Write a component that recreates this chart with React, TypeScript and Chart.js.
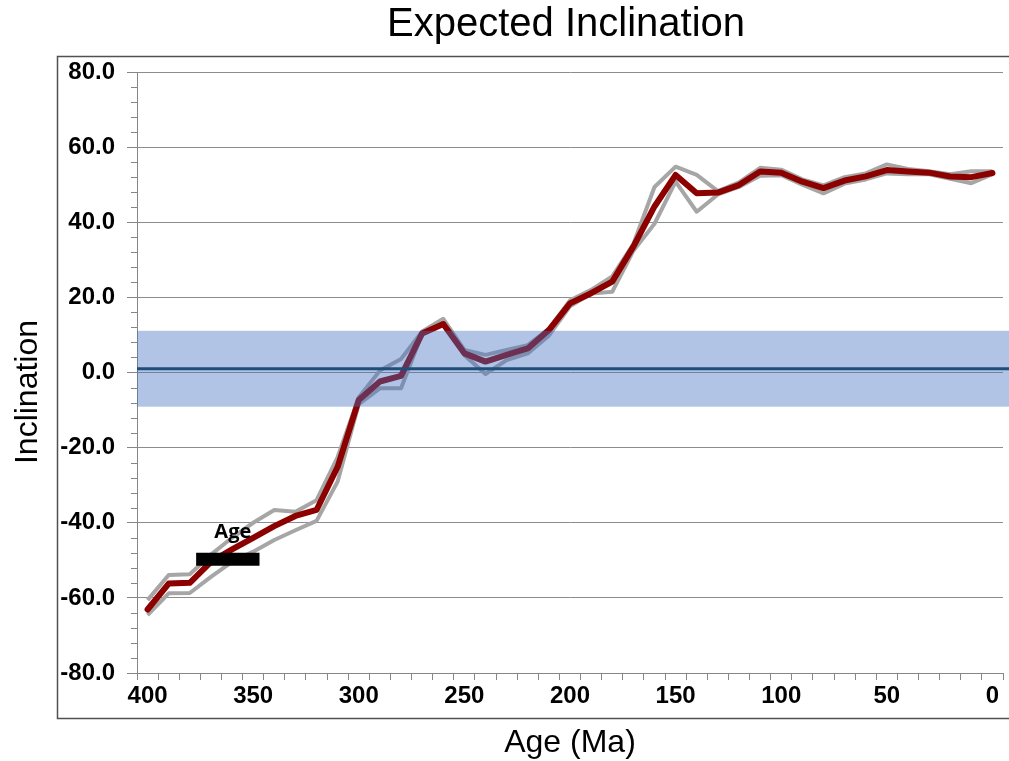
import React, { useEffect, useRef } from 'react';
import { Chart, registerables } from 'chart.js';

Chart.register(...registerables);

// ---- data ----
const ages = [
  400, 390, 380, 370, 360, 350, 340, 330, 320, 310,
  300, 290, 280, 270, 260, 250, 240, 230, 220, 210,
  200, 190, 180, 170, 160, 150, 140, 130, 120, 110,
  100, 90, 80, 70, 60, 50, 40, 30, 20, 10, 0,
];
const expectedInclination = [
  -63.1, -56.2, -56.0, -50.4, -47.1, -44.0, -40.9, -38.2, -36.6, -25.1,
  -7.3, -2.4, -0.9, 10.4, 12.9, 5.1, 2.9, 4.7, 6.4, 11.3,
  18.4, 21.1, 24.2, 33.5, 44.2, 52.6, 47.7, 47.9, 49.9, 53.5,
  53.2, 50.8, 49.1, 51.1, 52.2, 53.9, 53.5, 53.2, 52.2, 52.0, 53.1,
];
const upperInclination = [
  -60.6, -53.9, -53.7, -48.5, -44.0, -40.0, -36.6, -37.1, -34.0, -22.5,
  -6.6, 0.5, 3.6, 10.9, 14.3, 6.0, 4.7, 6.0, 7.3, 11.6,
  19.2, 22.0, 25.6, 34.2, 49.4, 54.8, 52.6, 48.3, 50.6, 54.5,
  54.0, 51.4, 49.8, 52.0, 53.0, 55.4, 54.2, 53.6, 52.8, 53.6, 53.6,
];
const lowerInclination = [
  -64.6, -58.8, -58.7, -54.4, -50.4, -47.7, -44.6, -42.0, -39.5, -29.0,
  -8.4, -4.2, -4.2, 10.3, 12.8, 4.6, -0.4, 3.3, 5.1, 9.8,
  17.6, 21.0, 21.5, 32.4, 39.6, 50.8, 42.8, 47.4, 49.4, 52.4,
  52.5, 50.0, 47.7, 50.3, 51.4, 53.0, 52.8, 52.8, 51.6, 50.4, 52.8,
];
const xLabelStep = 50;
const yMin = -80;
const yMax = 80;
const yMajorStep = 20;
const yMinorStep = 4;
const bandTop = 11.1;
const bandBottom = -9.1;
const bandCenter = 1.0;
const ageBarRange = [377, 347];
const ageBarValue = -49.7;
const ageBarLabel = 'Age';
const chartTitle = 'Expected Inclination';
const xTitle = 'Age (Ma)';
const yTitle = 'Inclination';

const FONT = "'Liberation Sans', Arial, sans-serif";
const AXIS_GREY = '#868686';

const decorPlugin = {
  id: 'decor',
  afterDatasetsDraw(chart: any) {
    const { ctx, chartArea, scales } = chart;
    const y = scales.y;
    ctx.save();
    const yt = y.getPixelForValue(bandTop);
    const yb = y.getPixelForValue(bandBottom);
    ctx.fillStyle = 'rgba(68,114,196,0.42)';
    ctx.fillRect(chartArea.left, yt, chart.width - chartArea.left, yb - yt);
    const yc = y.getPixelForValue(bandCenter);
    ctx.strokeStyle = '#1f4e79';
    ctx.lineWidth = 3;
    ctx.beginPath();
    ctx.moveTo(chartArea.left, yc);
    ctx.lineTo(chart.width, yc);
    ctx.stroke();
    ctx.restore();
  },
  afterDraw(chart: any) {
    const { ctx, chartArea, scales } = chart;
    const x = scales.x;
    const y = scales.y;
    ctx.save();
    // minor ticks on y axis
    ctx.strokeStyle = AXIS_GREY;
    ctx.lineWidth = 1;
    for (let v = yMin; v <= yMax; v += yMinorStep) {
      if (v % yMajorStep === 0) continue;
      const py = Math.round(y.getPixelForValue(v)) + 0.5;
      ctx.beginPath();
      ctx.moveTo(chartArea.left - 6, py);
      ctx.lineTo(chartArea.left, py);
      ctx.stroke();
    }
    // frame
    ctx.strokeStyle = '#505050';
    ctx.lineWidth = 1.5;
    ctx.beginPath();
    ctx.moveTo(chart.width + 2, 56.5);
    ctx.lineTo(57.5, 56.5);
    ctx.lineTo(57.5, 718.5);
    ctx.lineTo(chart.width + 2, 718.5);
    ctx.stroke();
    // titles
    ctx.fillStyle = '#000';
    ctx.textAlign = 'center';
    ctx.textBaseline = 'middle';
    ctx.font = `40px ${FONT}`;
    ctx.fillText(chartTitle, (chartArea.left + chartArea.right) / 2 - 4, 25);
    ctx.font = `32px ${FONT}`;
    ctx.fillText(xTitle, (chartArea.left + chartArea.right) / 2, 743);
    ctx.save();
    ctx.translate(28, 392);
    ctx.rotate(-Math.PI / 2);
    ctx.fillText(yTitle, 0, 0);
    ctx.restore();
    // age bar label
    const mid = (x.getPixelForValue(ageBarRange[0]) + x.getPixelForValue(ageBarRange[1])) / 2;
    ctx.font = `bold 20px 'Open Sans', 'Noto Sans', sans-serif`;
    ctx.fillText(ageBarLabel, mid + 5, y.getPixelForValue(ageBarValue) - 27);
    ctx.restore();
  },
};

export default function App() {
  const canvasRef = useRef<HTMLCanvasElement | null>(null);

  useEffect(() => {
    if (!canvasRef.current) return;
    const toXY = (vals: number[]) => ages.map((a, i) => ({ x: a, y: vals[i] }));
    const chart = new Chart(canvasRef.current, {
      type: 'line',
      data: {
        datasets: [
          {
            label: ageBarLabel,
            data: ageBarRange.map((a) => ({ x: a, y: ageBarValue })),
            borderColor: '#000',
            borderWidth: 13,
            borderCapStyle: 'butt',
            pointRadius: 0,
            fill: false,
          },
          {
            label: 'Expected',
            data: toXY(expectedInclination),
            borderColor: '#8c0000',
            borderWidth: 6,
            borderJoinStyle: 'round',
            borderCapStyle: 'round',
            pointRadius: 0,
            tension: 0,
            fill: false,
          },
          {
            label: 'Upper',
            data: toXY(upperInclination),
            borderColor: '#a6a6a6',
            borderWidth: 4,
            borderJoinStyle: 'round',
            pointRadius: 0,
            tension: 0,
            fill: false,
          },
          {
            label: 'Lower',
            data: toXY(lowerInclination),
            borderColor: '#a6a6a6',
            borderWidth: 4,
            borderJoinStyle: 'round',
            pointRadius: 0,
            tension: 0,
            fill: false,
          },
        ],
      },
      options: {
        responsive: false,
        animation: false,
        events: [],
        layout: { padding: { top: 72, left: 0, right: 6, bottom: 0 } },
        plugins: {
          legend: { display: false },
          tooltip: { enabled: false },
          title: { display: false },
        },
        scales: {
          x: {
            type: 'linear',
            reverse: true,
            min: -5,
            max: 405,
            afterBuildTicks: (s: any) => {
              s.ticks = ages.map((v) => ({ value: v }));
            },
            afterFit: (s: any) => {
              s.height = 88;
            },
            grid: {
              offset: true,
              drawOnChartArea: false,
              drawTicks: true,
              tickLength: 7,
              color: AXIS_GREY,
            },
            border: { color: AXIS_GREY, width: 1 },
            ticks: {
              autoSkip: false,
              maxRotation: 0,
              minRotation: 0,
              padding: 2,
              color: '#000',
              font: { family: FONT, size: 24, weight: 'bold' },
              callback: (v: any) => (Number(v) % xLabelStep === 0 ? String(v) : ''),
            },
          },
          y: {
            type: 'linear',
            min: yMin,
            max: yMax,
            afterFit: (s: any) => {
              s.width = 137;
            },
            grid: {
              color: '#8c8c8c',
              tickColor: AXIS_GREY,
              tickLength: 10,
              drawTicks: true,
            },
            border: { color: AXIS_GREY, width: 1 },
            ticks: {
              stepSize: yMajorStep,
              padding: 12,
              color: '#000',
              font: { family: FONT, size: 24, weight: 'bold' },
              callback: (v: any) => Number(v).toFixed(1),
            },
          },
        },
      } as any,
      plugins: [decorPlugin],
    });
    return () => chart.destroy();
  }, []);

  return (
    <div style={{ position: 'absolute', left: 0, top: 0, width: 1009, height: 761, background: '#fff' }}>
      <canvas ref={canvasRef} width={1009} height={761} />
    </div>
  );
}
